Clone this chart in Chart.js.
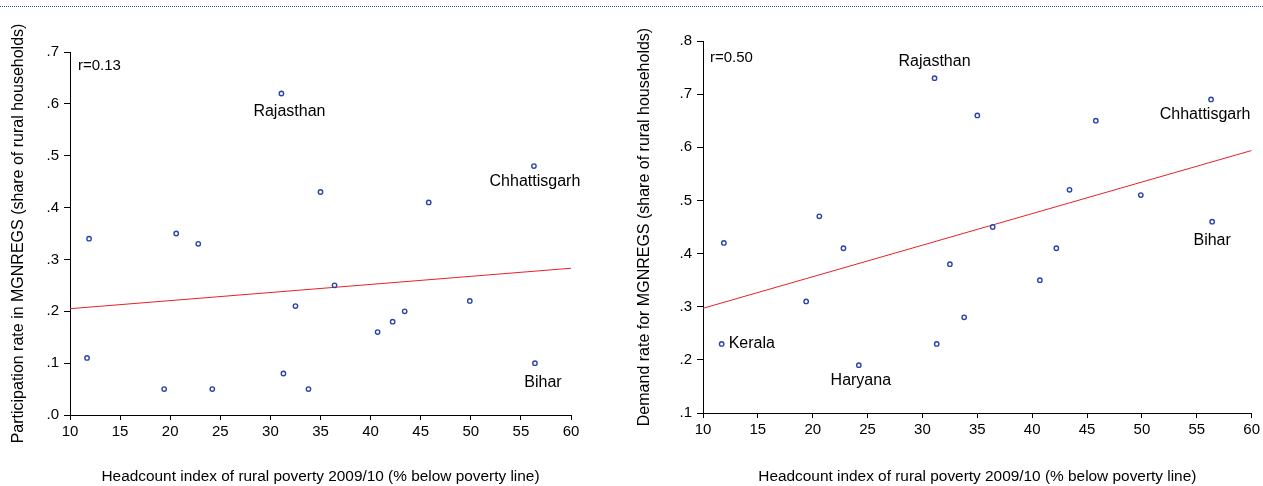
<!DOCTYPE html>
<html>
<head>
<meta charset="utf-8">
<script src="https://cdn.jsdelivr.net/npm/chart.js@4.4.1/dist/chart.umd.min.js"></script>
<style>
  body { margin: 0; background: #fff; width: 1263px; height: 486px; overflow: hidden; position: relative; }
  .rule { position: absolute; left: 0; top: 6px; width: 1263px; border-top: 1px dotted #2a5aa8; }
  .box { position: absolute; top: 0; height: 486px; }
  #left { left: 0; width: 620px; }
  #right { left: 630px; width: 633px; }
</style>
</head>
<body>
<div class="rule"></div>
<div class="box" id="left"><canvas id="chartLeft" width="620" height="486"></canvas></div>
<div class="box" id="right"><canvas id="chartRight" width="633" height="486"></canvas></div>
<script>
// headcount index of rural poverty 2009/10, one entry per state
const povertyRate = [11.7, 11.9, 19.4, 20.6, 22.8, 24.2, 31.1, 31.3, 32.5, 33.8, 35.0, 36.4, 40.7, 42.2, 43.4, 45.8, 49.9, 56.3, 56.4];
const participation = [0.11, 0.34, 0.05, 0.35, 0.33, 0.05, 0.62, 0.08, 0.21, 0.05, 0.43, 0.25, 0.16, 0.18, 0.20, 0.41, 0.22, 0.48, 0.10];
const demand = [0.23, 0.42, 0.31, 0.47, 0.41, 0.19, 0.73, 0.23, 0.38, 0.28, 0.66, 0.45, 0.35, 0.41, 0.52, 0.65, 0.51, 0.69, 0.46];
const stateNames = ["Kerala", "", "", "", "", "Haryana", "Rajasthan", "", "", "", "", "", "", "", "", "", "", "Chhattisgarh", "Bihar"];

// fitted lines, end points at x = 10 and x = 60
const fitX = [10, 60];
const participationFit = [0.205, 0.283];
const demandFit = [0.297, 0.594];

const xTicks = [10, 15, 20, 25, 30, 35, 40, 45, 50, 55, 60];
const leftYTicks = [0, 0.1, 0.2, 0.3, 0.4, 0.5, 0.6, 0.7];
const rightYTicks = [0.1, 0.2, 0.3, 0.4, 0.5, 0.6, 0.7, 0.8];

const xTitle = "Headcount index of rural poverty 2009/10 (% below poverty line)";
const leftYTitle = "Participation rate in MGNREGS (share of rural households)";
const rightYTitle = "Demand rate for MGNREGS (share of rural households)";

const FONT = "'Liberation Sans', Arial, sans-serif";
const dotColor = "#2a44a8";

// where each state's name sits relative to its dot
const leftLabelPos = {
  "Rajasthan": { dx: 8, dy: 18, align: "center" },
  "Chhattisgarh": { dx: 1, dy: 16, align: "center" },
  "Bihar": { dx: 8, dy: 19, align: "center" }
};
const rightLabelPos = {
  "Rajasthan": { dx: 0, dy: -17, align: "center" },
  "Chhattisgarh": { dx: -6, dy: 15, align: "center" },
  "Bihar": { dx: 0, dy: 19, align: "center" },
  "Kerala": { dx: 7, dy: 0, align: "left" },
  "Haryana": { dx: 2, dy: 15, align: "center" }
};

function tickText(v) {
  return v.toFixed(1).replace(/^0/, "");
}

function annotate(yValues, labelPos, rText, rdx, rdy) {
  return {
    id: "annotate",
    afterDatasetsDraw(chart) {
      const c = chart.ctx;
      const xs = chart.scales.x, ys = chart.scales.y;
      c.save();
      c.fillStyle = "#000";
      c.font = "16px " + FONT;
      c.textBaseline = "middle";
      stateNames.forEach((name, i) => {
        const p = labelPos[name];
        if (!p) return;
        c.textAlign = p.align;
        c.fillText(name, xs.getPixelForValue(povertyRate[i]) + p.dx, ys.getPixelForValue(yValues[i]) + p.dy);
      });
      c.font = "15px " + FONT;
      c.textAlign = "left";
      c.fillText(rText, chart.chartArea.left + rdx, chart.chartArea.top + rdy);
      c.restore();
    }
  };
}

function makeChart(canvasId, yValues, fitValues, yTicks, yTitle, area, rText, rdx, rdy, labelPos) {
  const points = povertyRate.map((x, i) => ({ x: x, y: yValues[i] }));
  const line = fitX.map((x, i) => ({ x: x, y: fitValues[i] }));
  return new Chart(document.getElementById(canvasId), {
    type: "scatter",
    data: {
      datasets: [
        {
          data: points,
          pointRadius: 2.2,
          pointBorderWidth: 1.4,
          pointBorderColor: dotColor,
          pointBackgroundColor: "#fff",
          showLine: false
        },
        {
          data: line,
          showLine: true,
          borderColor: "#e8202a",
          borderWidth: 1,
          pointRadius: 0
        }
      ]
    },
    options: {
      responsive: false,
      animation: false,
      events: [],
      layout: { padding: { left: 0, right: area.right, top: area.top, bottom: 0 } },
      plugins: { legend: { display: false }, tooltip: { enabled: false } },
      scales: {
        x: {
          type: "linear",
          min: 10,
          max: 60,
          afterBuildTicks: (s) => { s.ticks = xTicks.map((v) => ({ value: v })); },
          afterFit: (s) => { s.height = area.bottom; },
          grid: { drawOnChartArea: false, tickLength: 5, color: "#000", tickWidth: 1 },
          border: { color: "#000", width: 1 },
          ticks: { color: "#000", font: { family: FONT, size: 15 }, padding: 3, maxRotation: 0 },
          title: { display: true, text: xTitle, color: "#000", font: { family: FONT, size: 15.4 }, padding: { top: 1, bottom: 0 } }
        },
        y: {
          type: "linear",
          min: yTicks[0],
          max: yTicks[yTicks.length - 1],
          afterBuildTicks: (s) => { s.ticks = yTicks.map((v) => ({ value: v })); },
          afterFit: (s) => { s.width = area.left; },
          grid: { drawOnChartArea: false, tickLength: 6, color: "#000", tickWidth: 1 },
          border: { color: "#000", width: 1 },
          ticks: { color: "#000", font: { family: FONT, size: 15 }, padding: 5, callback: (v) => tickText(v) },
          title: { display: true, text: yTitle, color: "#000", font: { family: FONT, size: 16 }, padding: { top: area.titlePad, bottom: 0 } }
        }
      }
    },
    plugins: [annotate(yValues, labelPos, rText, rdx, rdy)]
  });
}

makeChart("chartLeft", participation, participationFit, leftYTicks, leftYTitle,
  { left: 70, right: 49, top: 52, bottom: 71, titlePad: 9 }, "r=0.13", 8, 14, leftLabelPos);
makeChart("chartRight", demand, demandFit, rightYTicks, rightYTitle,
  { left: 73, right: 11, top: 41, bottom: 73, titlePad: 5 }, "r=0.50", 7, 17, rightLabelPos);
</script>
</body>
</html>
